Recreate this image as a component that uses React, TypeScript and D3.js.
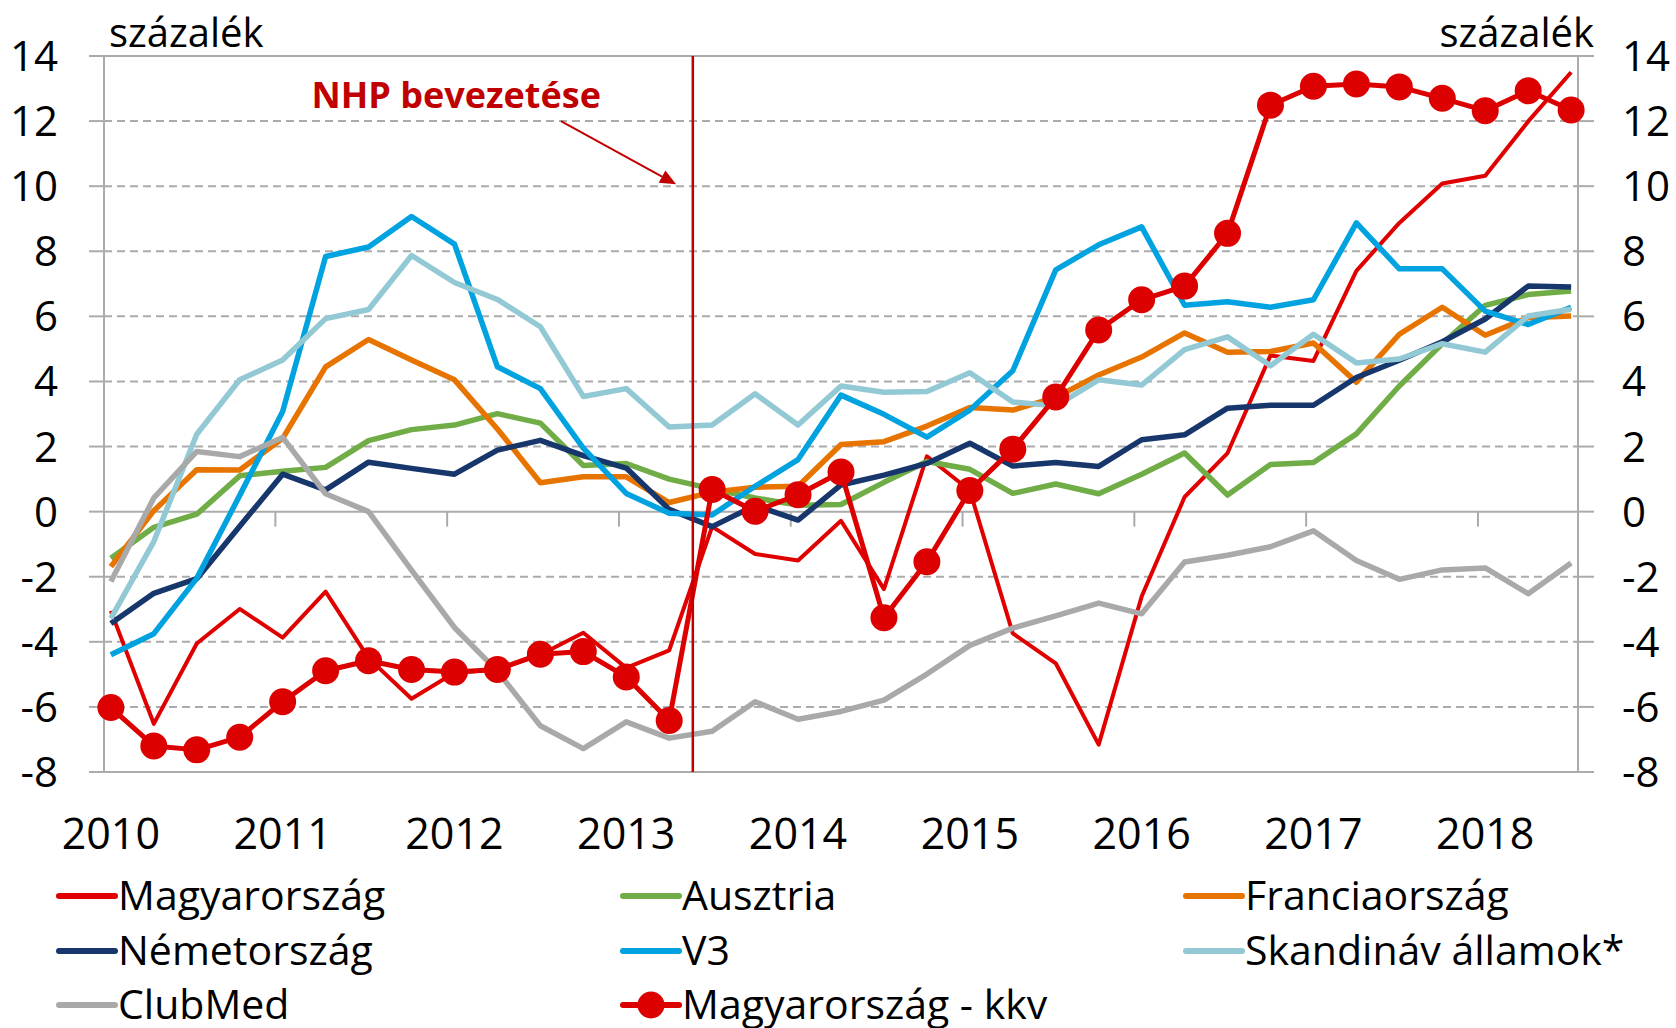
import * as d3 from "d3";

// quarterly data, 2010 Q1 .. 2018 Q3
const years = ["2010", "2011", "2012", "2013", "2014", "2015", "2016", "2017", "2018"];
const yTicks = [-8, -6, -4, -2, 0, 2, 4, 6, 8, 10, 12, 14];

const magyarorszag = [-3.05, -6.52, -4.05, -2.99, -3.87, -2.46, -4.5, -5.75, -4.95, -4.85, -4.4, -3.72, -4.8, -4.26, -0.46, -1.3, -1.5, -0.28, -2.38, 1.7, 0.65, -3.74, -4.66, -7.16, -2.61, 0.45, 1.8, 4.8, 4.63, 7.4, 8.87, 10.08, 10.32, 11.99, 13.5];
const ausztria = [-1.43, -0.48, -0.08, 1.1, 1.24, 1.36, 2.18, 2.52, 2.66, 3.01, 2.72, 1.42, 1.48, 1.0, 0.7, 0.42, 0.2, 0.22, 0.9, 1.54, 1.3, 0.56, 0.85, 0.55, 1.15, 1.8, 0.51, 1.45, 1.51, 2.39, 3.86, 5.16, 6.34, 6.67, 6.78];
const franciaorszag = [-1.69, 0.03, 1.29, 1.28, 2.25, 4.45, 5.29, 4.66, 4.05, 2.54, 0.89, 1.07, 1.07, 0.28, 0.6, 0.75, 0.78, 2.06, 2.15, 2.63, 3.2, 3.12, 3.51, 4.2, 4.75, 5.49, 4.9, 4.92, 5.18, 3.98, 5.45, 6.28, 5.42, 5.96, 6.01];
const nemetorszag = [-3.44, -2.51, -2.06, -0.45, 1.15, 0.67, 1.52, 1.33, 1.15, 1.89, 2.19, 1.72, 1.34, 0.07, -0.46, 0.19, -0.26, 0.82, 1.12, 1.48, 2.1, 1.4, 1.51, 1.39, 2.21, 2.36, 3.18, 3.27, 3.27, 4.12, 4.65, 5.22, 5.92, 6.93, 6.9];
const v3 = [-4.4, -3.75, -2.05, 0.5, 3.08, 7.84, 8.13, 9.07, 8.22, 4.45, 3.78, 1.95, 0.56, -0.05, -0.1, 0.78, 1.6, 3.58, 2.99, 2.29, 3.12, 4.33, 7.43, 8.2, 8.75, 6.34, 6.45, 6.28, 6.51, 8.87, 7.46, 7.46, 6.16, 5.75, 6.28];
const skandinav = [-3.28, -0.92, 2.38, 4.05, 4.66, 5.93, 6.21, 7.87, 7.04, 6.52, 5.68, 3.54, 3.78, 2.6, 2.66, 3.62, 2.66, 3.86, 3.67, 3.69, 4.27, 3.37, 3.25, 4.05, 3.89, 4.98, 5.37, 4.48, 5.45, 4.57, 4.69, 5.16, 4.9, 6.01, 6.22];
const clubMed = [-2.15, 0.42, 1.85, 1.69, 2.28, 0.55, 0.0, -1.8, -3.56, -4.9, -6.58, -7.28, -6.46, -6.96, -6.75, -5.84, -6.38, -6.14, -5.79, -4.99, -4.11, -3.58, -3.2, -2.81, -3.14, -1.55, -1.34, -1.08, -0.59, -1.5, -2.08, -1.79, -1.73, -2.52, -1.58];
const magyarorszagKkv = [-6.02, -7.2, -7.32, -6.93, -5.84, -4.89, -4.58, -4.85, -4.93, -4.85, -4.38, -4.3, -5.08, -6.42, 0.68, 0.01, 0.52, 1.22, -3.26, -1.54, 0.65, 1.92, 3.52, 5.58, 6.51, 6.93, 8.55, 12.49, 13.07, 13.14, 13.05, 12.7, 12.32, 12.93, 12.34];

// NHP launch, between 2013 Q2 and Q3 (in quarter-index units)
const nhpIndex = 13.55;

const series = [
  { name: "Magyarország", values: magyarorszag, color: "#E00000", width: 4, marker: false },
  { name: "Ausztria", values: ausztria, color: "#70AD47", width: 5.5, marker: false },
  { name: "Franciaország", values: franciaorszag, color: "#E87400", width: 5.5, marker: false },
  { name: "Németország", values: nemetorszag, color: "#17366B", width: 5.5, marker: false },
  { name: "V3", values: v3, color: "#00A2E0", width: 5.5, marker: false },
  { name: "Skandináv államok*", values: skandinav, color: "#92C9D4", width: 5.5, marker: false },
  { name: "ClubMed", values: clubMed, color: "#A9A9A9", width: 5.5, marker: false },
  { name: "Magyarország - kkv", values: magyarorszagKkv, color: "#DD0000", width: 5, marker: true },
];

const FONT = "'Open Sans', sans-serif";
const GRID = "#ABABAB";

export default function App() {
  const W = 1676;
  const H = 1028;
  const plot = { left: 104, right: 1578, top: 56, bottom: 772 };

  const x = d3.scaleLinear().domain([-0.16, 34.16]).range([plot.left, plot.right]);
  const y = d3.scaleLinear().domain([-8, 14]).range([plot.bottom, plot.top]);
  const line = d3.line<number>().x((_, i) => x(i)).y((d) => y(d));

  const tickIdx = d3.range(1, 9).map((k) => 4 * k - 0.17);

  const legendCols = [59, 623, 1186];
  const legendRows = [896, 951, 1005];

  const arrowStart = { i: 10.48, v: 12.0 };
  const arrowEnd = { i: 13.16, v: 10.06 };
  const ax1 = x(arrowStart.i), ay1 = y(arrowStart.v);
  const ax2 = x(arrowEnd.i), ay2 = y(arrowEnd.v);
  const ang = Math.atan2(ay2 - ay1, ax2 - ax1);
  const headL = 16, headW = 7;
  const bx = ax2 - headL * Math.cos(ang), by = ay2 - headL * Math.sin(ang);
  const head = [
    [ax2, ay2],
    [bx + headW * Math.sin(ang), by - headW * Math.cos(ang)],
    [bx - headW * Math.sin(ang), by + headW * Math.cos(ang)],
  ];

  return (
    <svg width={W} height={H} style={{ position: "absolute", left: 0, top: 0, background: "#fff" }} fontFamily={FONT}>
      {/* grid lines */}
      {yTicks.map((t) => {
        const solid = t === -8 || t === 0 || t === 14;
        return (
          <g key={t}>
            <line x1={plot.left} x2={plot.right} y1={y(t)} y2={y(t)} stroke={GRID} strokeWidth={2}
              strokeDasharray={solid ? undefined : "8,5"} />
            <line x1={plot.left - 15} x2={plot.left} y1={y(t)} y2={y(t)} stroke={GRID} strokeWidth={2} />
            <line x1={plot.right} x2={plot.right + 16} y1={y(t)} y2={y(t)} stroke={GRID} strokeWidth={2} />
            <text x={58} y={y(t) + 15} textAnchor="end" fontSize={42} fill="#000">{t}</text>
            <text x={1622} y={y(t) + 15} textAnchor="start" fontSize={42} fill="#000">{t}</text>
          </g>
        );
      })}
      <line x1={plot.left} x2={plot.left} y1={plot.top} y2={plot.bottom} stroke={GRID} strokeWidth={2} />
      <line x1={plot.right} x2={plot.right} y1={plot.top} y2={plot.bottom} stroke={GRID} strokeWidth={2} />
      {tickIdx.map((t) => (
        <line key={t} x1={x(t)} x2={x(t)} y1={y(0)} y2={y(0) + 15} stroke={GRID} strokeWidth={2} />
      ))}

      {/* unit labels */}
      <text x={109} y={47} fontSize={40} fill="#000">százalék</text>
      <text x={1594} y={47} fontSize={40} fill="#000" textAnchor="end">százalék</text>

      {/* year labels */}
      {years.map((yr, k) => (
        <text key={yr} x={x(4 * k)} y={849} textAnchor="middle" fontSize={43} fill="#000">{yr}</text>
      ))}

      {/* series */}
      {series.map((s) => (
        <g key={s.name}>
          <path d={line(s.values) || ""} fill="none" stroke={s.color} strokeWidth={s.width} strokeLinejoin="round" />
          {s.marker && s.values.map((v, i) => (
            <circle key={i} cx={x(i)} cy={y(v)} r={13.5} fill={s.color} />
          ))}
        </g>
      ))}

      {/* NHP annotation */}
      <line x1={x(nhpIndex)} x2={x(nhpIndex)} y1={plot.top} y2={plot.bottom} stroke="#C00000" strokeWidth={2.5} />
      <text x={x(8.04)} y={y(12.4)} textAnchor="middle" fontSize={36} fontWeight="bold" fill="#C00000">NHP bevezetése</text>
      <line x1={ax1} y1={ay1} x2={bx} y2={by} stroke="#C00000" strokeWidth={2} />
      <polygon points={head.map((p) => p.join(",")).join(" ")} fill="#C00000" />

      {/* legend */}
      {series.map((s, i) => {
        const cx = legendCols[i % 3];
        const cy = legendRows[Math.floor(i / 3)];
        return (
          <g key={s.name}>
            <line x1={cx} x2={cx + 56} y1={cy} y2={cy} stroke={s.color} strokeWidth={6} strokeLinecap="round" />
            {s.marker && <circle cx={cx + 28} cy={cy} r={13.5} fill={s.color} />}
            <text x={cx + 59} y={cy + 14} fontSize={41} fill="#000">{s.name}</text>
          </g>
        );
      })}
    </svg>
  );
}
